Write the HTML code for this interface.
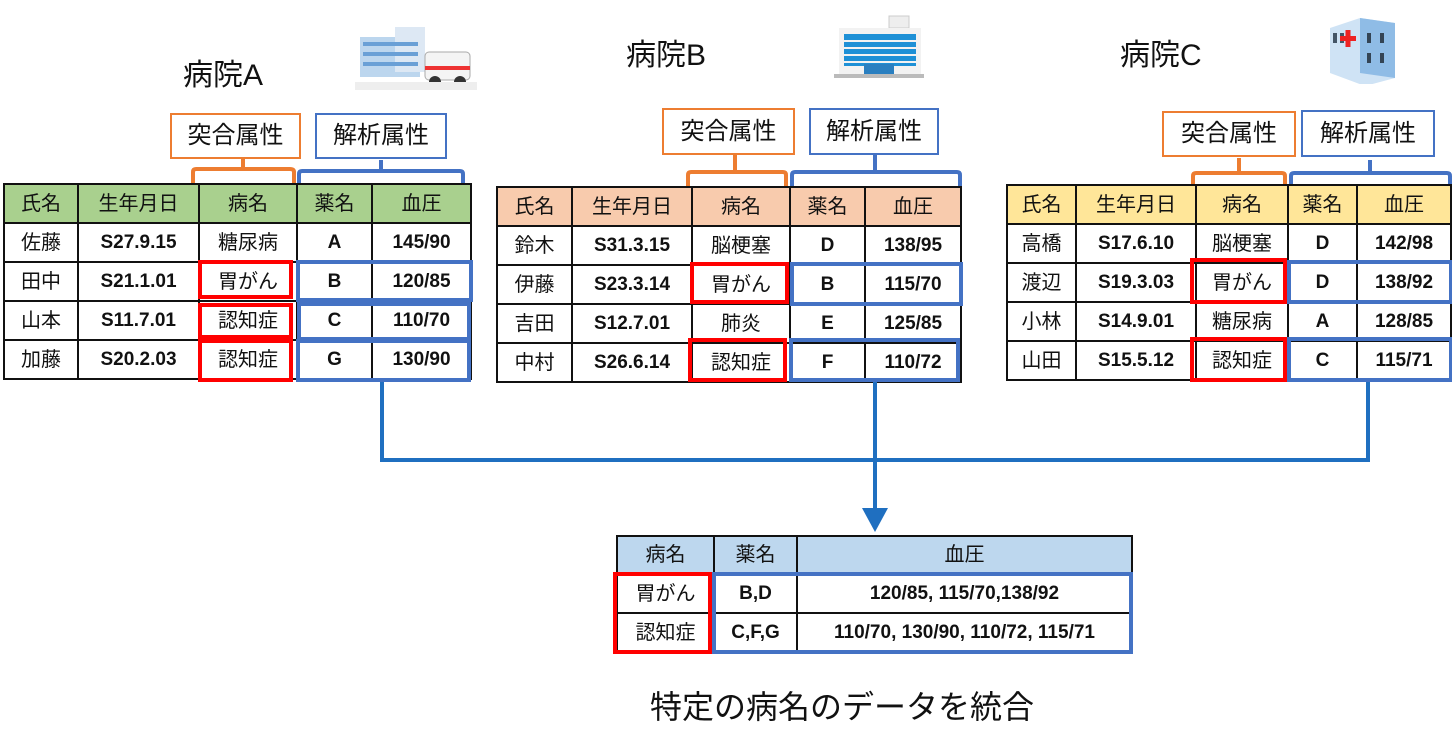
<!DOCTYPE html>
<html><head><meta charset="utf-8"><style>
body{margin:0;width:1452px;height:743px;background:#fff;position:relative;overflow:hidden;font-family:"Liberation Sans","Noto Sans CJK JP",sans-serif;color:#111}
.a{position:absolute}
table{position:absolute;border-collapse:collapse;table-layout:fixed}
td{border:2px solid #111;text-align:center;vertical-align:middle;padding:0;font-size:20px;height:37px;line-height:20px;background:#fff}
td.n{font-weight:bold;font-size:19px}
.lb{position:absolute;border:2px solid;background:#fff;font-size:24px;text-align:center;box-sizing:border-box}
.r{position:absolute;border:4px solid #ff0000;box-sizing:border-box}
.b{position:absolute;border:4px solid #4472c4;box-sizing:border-box}
.t{position:absolute;font-size:30px}
.ln{position:absolute;background:#1f6fc0}
</style></head><body>

<div class="t" style="left:183px;top:50px">病院A</div>
<div class="t" style="left:626px;top:30px">病院B</div>
<div class="t" style="left:1120px;top:30px">病院C</div>

<svg class="a" style="left:355px;top:22px" width="122" height="72"><rect x="5" y="15" width="60" height="40" fill="#bcd6ee"/><rect x="40" y="5" width="30" height="45" fill="#dde8f4"/><rect x="8" y="20" width="55" height="4" fill="#6aa0d6"/><rect x="8" y="30" width="55" height="4" fill="#6aa0d6"/><rect x="8" y="40" width="55" height="4" fill="#6aa0d6"/><rect x="70" y="30" width="45" height="28" rx="4" fill="#f4f4f4" stroke="#aaa"/><rect x="70" y="44" width="45" height="4" fill="#e33"/><circle cx="80" cy="60" r="6" fill="#333"/><circle cx="105" cy="60" r="6" fill="#333"/><rect x="0" y="60" width="122" height="8" fill="#eee"/></svg>
<svg class="a" style="left:834px;top:14px" width="90" height="64"><rect x="55" y="2" width="20" height="12" fill="#eee" stroke="#ccc"/><rect x="5" y="14" width="82" height="46" fill="#f2f2f2"/><rect x="10" y="20" width="72" height="32" fill="#1e90d6"/><g fill="#f2f2f2"><rect x="10" y="26" width="72" height="2"/><rect x="10" y="33" width="72" height="2"/><rect x="10" y="40" width="72" height="2"/><rect x="10" y="47" width="72" height="2"/></g><rect x="30" y="50" width="30" height="10" fill="#2a7fc0"/><rect x="0" y="60" width="90" height="4" fill="#bbb"/></svg>
<svg class="a" style="left:1325px;top:8px" width="76" height="76"><polygon points="5,20 35,10 70,15 70,70 40,78 5,65" fill="#cfe3f5"/><polygon points="35,10 70,15 70,70 35,65" fill="#8fbce6"/><rect x="8" y="25" width="4" height="10" fill="#456"/><rect x="15" y="25" width="4" height="10" fill="#456"/><rect x="42" y="25" width="4" height="10" fill="#345"/><rect x="55" y="25" width="4" height="10" fill="#345"/><rect x="42" y="45" width="4" height="10" fill="#345"/><rect x="55" y="45" width="4" height="10" fill="#345"/><rect x="15" y="28" width="16" height="5" fill="#e22"/><rect x="20.5" y="22" width="5" height="17" fill="#e22"/></svg>

<div class="lb" style="left:170px;top:113px;width:131px;height:46px;line-height:42px;border-color:#ed7d31">突合属性</div>
<div class="lb" style="left:315px;top:113px;width:132px;height:46px;line-height:42px;border-color:#4472c4">解析属性</div>
<svg class="a" style="left:0;top:0" width="1452" height="200">
<g fill="none" stroke-width="4" stroke-linejoin="round">
<path d="M193 183 V172 Q193 169 196 169 H290 Q294 169 294 172 V183 M243 169 V159" stroke="#ed7d31"/>
<path d="M299 183 V174 Q299 171 302 171 H460 Q463 171 463 174 V185 M381 171 V160" stroke="#4472c4"/>
<path d="M688 186 V175 Q688 172 691 172 H783 Q786 172 786 175 V186 M735 172 V155" stroke="#ed7d31"/>
<path d="M792 186 V175 Q792 172 795 172 H957 Q960 172 960 175 V186 M875 172 V155" stroke="#4472c4"/>
<path d="M1193 184 V176 Q1193 173 1196 173 H1282 Q1285 173 1285 176 V184 M1239 173 V158" stroke="#ed7d31"/>
<path d="M1291 184 V176 Q1291 173 1294 173 H1447 Q1450 173 1450 176 V184 M1370 173 V160" stroke="#4472c4"/>
</g></svg>
<div class="lb" style="left:662px;top:108px;width:133px;height:47px;line-height:43px;border-color:#ed7d31">突合属性</div>
<div class="lb" style="left:809px;top:108px;width:130px;height:47px;line-height:43px;border-color:#4472c4">解析属性</div>
<div class="lb" style="left:1162px;top:111px;width:134px;height:46px;line-height:42px;border-color:#ed7d31">突合属性</div>
<div class="lb" style="left:1301px;top:110px;width:134px;height:47px;line-height:43px;border-color:#4472c4">解析属性</div>

<table style="left:3px;top:183px;width:467px">
<col style="width:74px"><col style="width:121px"><col style="width:98px"><col style="width:75px"><col style="width:99px">
<tr><td style="background:#a9d08e">氏名</td><td style="background:#a9d08e">生年月日</td><td style="background:#a9d08e">病名</td><td style="background:#a9d08e">薬名</td><td style="background:#a9d08e">血圧</td></tr>
<tr><td>佐藤</td><td class="n">S27.9.15</td><td>糖尿病</td><td class="n">A</td><td class="n">145/90</td></tr>
<tr><td>田中</td><td class="n">S21.1.01</td><td>胃がん</td><td class="n">B</td><td class="n">120/85</td></tr>
<tr><td>山本</td><td class="n">S11.7.01</td><td>認知症</td><td class="n">C</td><td class="n">110/70</td></tr>
<tr><td>加藤</td><td class="n">S20.2.03</td><td>認知症</td><td class="n">G</td><td class="n">130/90</td></tr>
</table>
<div class="r" style="left:198px;top:260px;width:95px;height:39px"></div>
<div class="r" style="left:198px;top:303px;width:95px;height:36px"></div>
<div class="r" style="left:198px;top:339px;width:95px;height:43px"></div>
<div class="b" style="left:296px;top:260px;width:177px;height:42px"></div>
<div class="b" style="left:297px;top:302px;width:174px;height:39px"></div>
<div class="b" style="left:296px;top:339px;width:175px;height:43px"></div>

<table style="left:496px;top:186px;width:464px">
<col style="width:75px"><col style="width:120px"><col style="width:98px"><col style="width:75px"><col style="width:96px">
<tr><td style="background:#f8cbad">氏名</td><td style="background:#f8cbad">生年月日</td><td style="background:#f8cbad">病名</td><td style="background:#f8cbad">薬名</td><td style="background:#f8cbad">血圧</td></tr>
<tr><td>鈴木</td><td class="n">S31.3.15</td><td>脳梗塞</td><td class="n">D</td><td class="n">138/95</td></tr>
<tr><td>伊藤</td><td class="n">S23.3.14</td><td>胃がん</td><td class="n">B</td><td class="n">115/70</td></tr>
<tr><td>吉田</td><td class="n">S12.7.01</td><td>肺炎</td><td class="n">E</td><td class="n">125/85</td></tr>
<tr><td>中村</td><td class="n">S26.6.14</td><td>認知症</td><td class="n">F</td><td class="n">110/72</td></tr>
</table>
<div class="r" style="left:690px;top:262px;width:99px;height:42px"></div>
<div class="r" style="left:688px;top:338px;width:99px;height:44px"></div>
<div class="b" style="left:790px;top:262px;width:173px;height:44px"></div>
<div class="b" style="left:789px;top:338px;width:171px;height:44px"></div>

<table style="left:1006px;top:184px;width:444px">
<col style="width:69px"><col style="width:120px"><col style="width:92px"><col style="width:69px"><col style="width:94px">
<tr><td style="background:#ffe699">氏名</td><td style="background:#ffe699">生年月日</td><td style="background:#ffe699">病名</td><td style="background:#ffe699">薬名</td><td style="background:#ffe699">血圧</td></tr>
<tr><td>高橋</td><td class="n">S17.6.10</td><td>脳梗塞</td><td class="n">D</td><td class="n">142/98</td></tr>
<tr><td>渡辺</td><td class="n">S19.3.03</td><td>胃がん</td><td class="n">D</td><td class="n">138/92</td></tr>
<tr><td>小林</td><td class="n">S14.9.01</td><td>糖尿病</td><td class="n">A</td><td class="n">128/85</td></tr>
<tr><td>山田</td><td class="n">S15.5.12</td><td>認知症</td><td class="n">C</td><td class="n">115/71</td></tr>
</table>
<div class="r" style="left:1190px;top:258px;width:97px;height:46px"></div>
<div class="r" style="left:1190px;top:337px;width:97px;height:45px"></div>
<div class="b" style="left:1287px;top:260px;width:166px;height:44px"></div>
<div class="b" style="left:1287px;top:337px;width:166px;height:45px"></div>

<div class="ln" style="left:380px;top:382px;width:4px;height:80px"></div>
<div class="ln" style="left:1366px;top:382px;width:4px;height:80px"></div>
<div class="ln" style="left:380px;top:458px;width:990px;height:4px"></div>
<div class="ln" style="left:873px;top:382px;width:4px;height:130px"></div>
<svg class="a" style="left:862px;top:508px" width="26" height="26"><polygon points="0,0 26,0 13,24" fill="#1f6fc0"/></svg>

<table style="left:616px;top:535px;width:515px">
<col style="width:97px"><col style="width:83px"><col style="width:335px">
<tr><td style="background:#bdd7ee;height:36px">病名</td><td style="background:#bdd7ee;height:36px">薬名</td><td style="background:#bdd7ee;height:36px">血圧</td></tr>
<tr><td>胃がん</td><td class="n">B,D</td><td class="n">120/85, 115/70,138/92</td></tr>
<tr><td>認知症</td><td class="n">C,F,G</td><td class="n">110/70, 130/90, 110/72, 115/71</td></tr>
</table>
<div class="r" style="left:613px;top:572px;width:99px;height:82px"></div>
<div class="b" style="left:712px;top:572px;width:421px;height:82px"></div>

<div class="a" style="left:650px;top:682px;font-size:32px">特定の病名のデータを統合</div>
</body></html>
